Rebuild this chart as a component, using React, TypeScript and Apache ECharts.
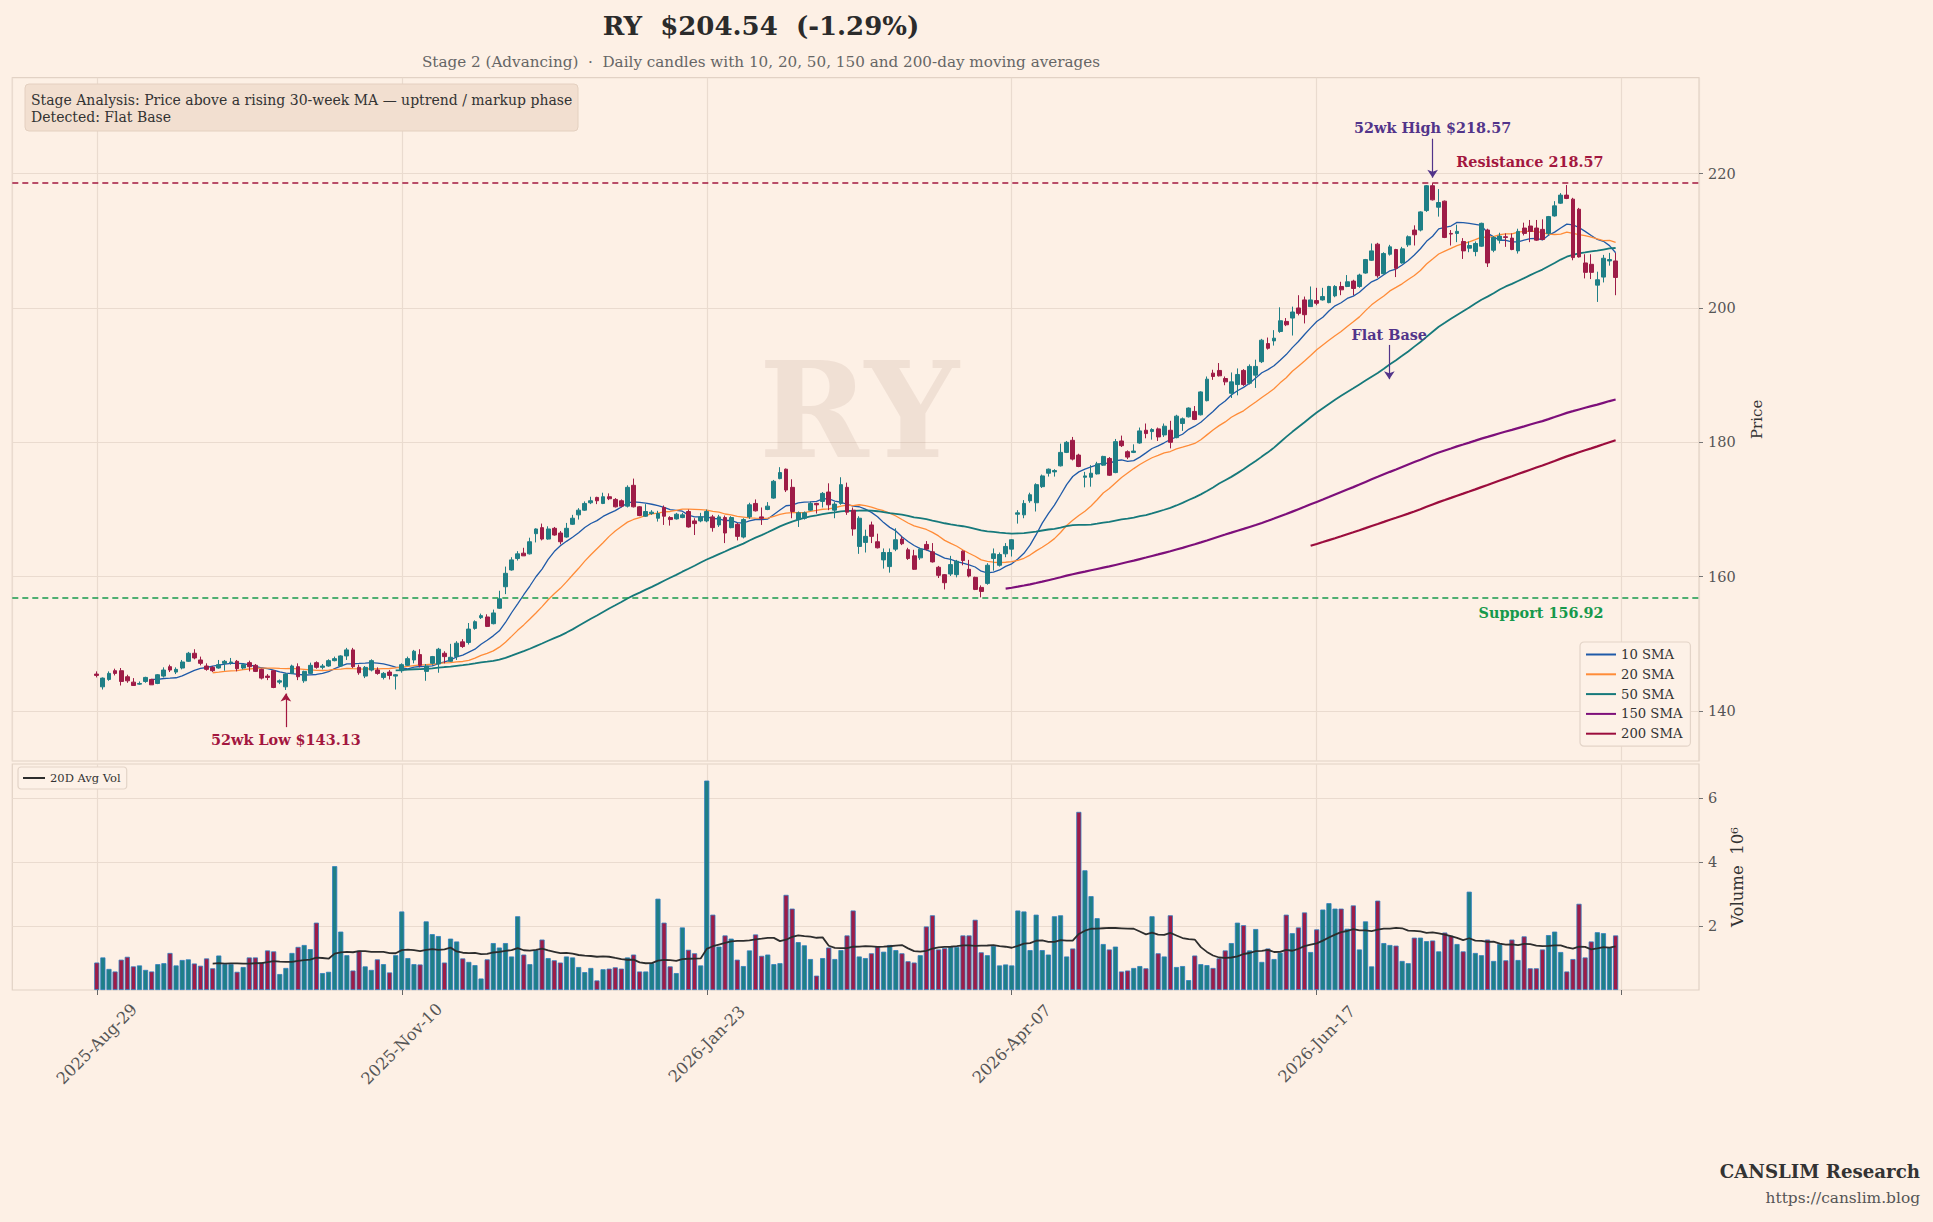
import React, { useEffect, useRef } from "react";
import * as echarts from "echarts";

// ---------- data ----------
const TICK_LABELS = ["2025-Aug-29", "2025-Nov-10", "2026-Jan-23", "2026-Apr-07", "2026-Jun-17"];
const TICK_STEP = 50;

const OPEN = [
  145.5,143.6,144.7,146.0,146.0,145.1,144.3,144.0,144.4,144.7,
  144.1,145.2,146.6,145.8,146.4,147.4,148.6,147.6,146.7,146.5,
  146.4,147.1,147.2,147.4,146.4,147.2,146.8,146.2,145.2,146.0,
  144.3,143.6,145.6,146.6,144.5,145.6,147.2,146.5,146.7,147.5,
  146.7,148.2,149.1,146.5,145.2,146.1,146.1,145.0,145.8,145.2,
  146.0,146.8,147.6,148.4,145.9,147.1,147.0,148.6,147.4,148.1,
  150.3,150.2,152.3,153.9,154.0,153.0,155.3,158.5,161.0,162.7,
  163.5,163.4,166.4,167.3,165.6,167.2,166.5,165.9,167.8,169.2,
  169.9,171.0,171.8,170.9,171.9,171.5,171.3,170.5,173.6,170.4,
  169.0,169.4,168.7,170.3,168.8,168.6,168.8,169.7,168.3,168.3,
  168.3,168.9,167.7,168.8,167.3,167.8,165.9,168.9,170.9,168.9,
  170.0,171.7,174.6,176.0,173.3,168.5,168.7,169.9,170.9,171.2,
  172.6,169.9,170.9,173.3,169.9,164.5,165.1,167.7,165.2,162.5,
  161.5,164.1,165.6,164.0,163.1,162.8,164.8,163.7,161.4,160.3,
  160.4,160.3,163.8,161.1,159.9,158.4,159.0,162.7,161.7,163.4,
  164.1,169.3,169.2,171.3,171.0,173.4,175.4,175.6,176.5,178.5,
  180.3,178.1,174.8,174.8,175.3,176.6,177.6,175.5,180.2,178.6,
  178.5,179.9,181.8,181.6,182.0,181.1,181.8,180.7,182.8,183.8,
  184.6,184.1,186.2,190.3,190.7,189.5,187.3,188.6,190.7,188.8,
  190.0,192.0,194.7,195.1,196.5,198.0,198.5,200.0,201.2,200.2,
  201.1,201.2,200.8,201.8,203.2,203.2,204.0,203.2,205.2,207.1,
  209.5,205.1,208.0,208.7,206.7,209.4,211.6,211.6,214.5,218.2,
  215.0,215.9,211.1,211.1,209.9,208.9,208.4,209.2,211.6,208.6,
  210.1,210.6,210.4,208.5,211.9,212.2,211.9,211.7,211.1,213.7,
  215.6,216.8,216.2,214.7,206.7,206.5,203.4,204.6,207.0,207.0,
];

const CLOSE = [
  145.3,144.9,145.6,145.6,144.4,144.5,143.8,144.1,145.0,143.9,
  145.4,146.1,146.1,146.2,147.3,148.6,147.9,147.1,146.2,146.0,
  146.9,147.4,147.3,146.3,146.9,146.6,145.9,144.9,145.0,143.5,
  144.5,145.5,146.7,145.1,145.9,146.8,146.5,146.7,147.5,147.8,
  148.2,149.1,146.6,145.7,146.5,147.5,145.6,145.6,145.3,145.4,
  146.9,147.8,148.9,146.8,146.7,148.1,149.2,148.1,148.0,150.1,
  149.6,152.2,153.3,154.2,152.6,154.6,156.7,160.5,162.5,163.4,
  163.1,165.2,167.1,165.6,167.1,166.2,165.2,167.2,168.7,169.9,
  170.9,171.3,171.3,171.9,171.6,170.4,170.5,173.3,170.4,169.1,
  169.7,169.6,169.4,169.0,168.5,169.3,169.2,167.4,167.9,168.9,
  169.7,167.3,168.9,166.5,168.8,166.0,168.5,170.7,169.8,168.7,
  170.5,174.2,175.5,172.9,169.7,169.5,169.5,170.9,170.7,172.4,
  170.7,170.8,173.7,169.6,167.1,168.7,166.0,166.0,164.3,163.6,
  163.6,165.5,164.9,162.7,161.1,164.1,164.1,162.2,160.2,159.1,
  161.8,162.3,162.4,160.1,158.1,157.8,161.7,163.4,163.3,164.5,
  165.5,169.5,170.9,172.2,173.7,175.0,176.0,175.8,178.5,180.0,
  177.5,176.4,175.0,175.4,176.8,177.9,175.1,180.1,179.5,177.8,
  178.7,181.7,181.3,181.9,180.8,182.4,180.0,183.9,183.5,185.1,
  183.4,187.5,189.4,189.8,189.9,189.0,189.0,190.1,188.6,191.3,
  191.3,195.2,194.0,195.5,198.1,197.5,199.4,199.2,199.0,201.2,
  200.7,201.7,203.2,203.2,202.7,203.9,202.9,204.9,207.2,208.5,
  204.8,208.1,209.1,205.9,208.8,210.6,210.9,214.3,218.2,216.1,
  215.7,210.5,211.0,211.4,208.5,209.3,209.6,212.6,206.7,210.5,
  210.7,210.5,208.7,211.4,211.1,211.4,210.1,210.2,213.6,215.2,
  216.8,216.3,207.5,207.6,205.3,205.3,204.2,207.4,207.21,204.54,
];

const LOW = [
  145.0,143.2,144.5,145.3,143.8,144.2,143.8,143.9,144.2,143.9,
  144.0,145.0,145.8,145.5,146.2,147.3,147.7,146.8,146.0,145.8,
  146.3,146.0,146.9,145.9,146.2,145.9,145.8,144.7,144.6,143.4,
  144.0,143.13,145.5,144.6,144.2,145.5,146.3,146.2,146.6,147.4,
  146.6,147.6,146.4,145.4,144.9,145.9,145.4,144.7,144.7,143.2,
  145.7,146.7,147.1,146.5,144.5,146.9,145.7,147.1,147.3,147.6,
  149.4,149.9,152.1,153.7,152.5,152.9,155.2,157.4,160.9,162.4,
  163.1,163.3,165.1,165.4,165.5,166.1,164.8,165.8,167.7,168.5,
  169.8,170.8,170.8,170.8,171.4,170.3,170.3,170.3,170.3,169.0,
  168.9,169.2,168.2,167.7,167.6,168.5,168.7,167.3,166.2,168.1,
  168.1,166.7,167.4,165.0,167.2,165.4,165.7,168.6,169.7,167.7,
  169.9,171.6,174.5,172.6,168.7,167.4,168.5,169.8,169.4,170.3,
  169.9,168.7,170.7,169.2,166.1,163.4,163.6,165.0,164.2,161.2,
  160.6,163.8,164.7,162.5,161.0,162.5,163.9,162.1,159.8,158.1,
  160.1,159.9,161.7,159.9,158.0,156.92,158.8,160.9,161.5,162.9,
  163.0,167.9,168.7,171.0,169.7,173.2,174.9,174.9,176.4,178.4,
  177.3,176.3,173.3,173.4,175.2,176.5,175.0,175.4,179.3,177.5,
  178.4,179.8,180.6,180.4,180.2,180.8,179.1,180.6,181.7,183.7,
  183.3,184.0,186.1,189.3,189.8,188.5,186.6,187.0,188.4,188.6,
  188.1,191.8,193.8,194.4,196.3,197.3,195.9,198.9,197.7,200.2,
  200.4,201.1,200.7,201.6,201.9,203.1,201.9,203.0,205.1,207.0,
  204.5,205.0,207.8,204.6,206.6,209.1,209.3,211.4,214.3,216.0,
  213.6,210.4,209.3,209.8,207.3,208.3,207.7,209.1,206.1,208.3,
  209.6,209.1,208.6,208.1,210.8,209.8,210.0,210.1,210.8,213.6,
  215.5,216.2,207.1,207.5,204.4,204.3,200.9,203.8,206.3,201.9,
];

const HIGH = [
  145.9,145.0,145.9,146.3,146.4,145.4,144.9,144.4,145.1,144.8,
  145.5,146.5,146.9,146.5,147.6,148.8,149.2,148.1,147.1,146.7,
  147.6,147.6,147.9,147.6,147.1,147.5,147.0,146.3,145.5,146.1,
  144.7,145.6,146.9,147.1,146.0,147.2,147.4,147.0,147.7,148.1,
  148.3,149.4,149.4,146.9,146.7,147.7,146.5,145.8,146.1,145.5,
  147.1,148.1,149.1,149.2,147.0,148.2,149.4,148.9,150.0,150.4,
  150.7,153.1,153.5,154.5,154.4,155.1,157.9,161.5,162.9,163.8,
  164.3,165.8,167.2,167.9,167.5,167.4,166.8,168.0,169.2,170.2,
  171.2,171.9,171.9,172.5,172.4,171.7,171.5,173.6,174.6,170.5,
  170.8,169.9,169.8,170.6,169.0,169.5,169.5,170.0,168.7,169.5,
  170.0,169.2,169.2,169.1,169.0,168.0,168.7,171.0,171.5,170.3,
  171.1,174.4,176.3,176.1,174.5,169.7,169.7,171.2,171.0,172.6,
  173.9,171.1,174.8,174.0,170.3,169.0,167.0,168.2,166.4,164.2,
  164.2,167.2,166.0,164.3,164.0,164.3,165.3,165.0,161.6,160.4,
  163.1,162.5,163.9,162.5,160.0,158.7,162.0,164.2,163.6,165.0,
  165.6,169.9,171.4,172.5,173.9,175.2,176.1,176.0,179.8,180.2,
  180.8,178.3,175.6,176.6,177.1,178.0,177.8,180.5,181.0,178.8,
  179.7,182.2,182.8,182.1,182.2,182.8,183.2,184.1,183.7,185.2,
  185.4,187.6,189.8,190.8,191.8,189.8,190.4,191.0,190.9,191.6,
  192.3,195.4,195.6,196.7,200.1,198.5,200.2,201.9,201.7,203.2,
  203.0,203.0,203.3,203.4,203.9,204.9,204.2,205.1,207.3,209.6,
  209.7,208.3,209.4,208.8,209.1,210.8,212.3,214.4,218.3,218.57,
  217.7,216.0,211.6,212.4,210.4,209.9,209.9,212.7,211.8,210.7,
  211.2,211.1,211.1,211.8,212.7,213.1,213.1,213.2,213.7,215.9,
  217.1,218.3,216.4,214.9,208.0,208.0,205.4,207.9,208.2,208.2,
];

// volume in millions
const VOLUME = [
  0.86,1.02,0.66,0.58,0.95,1.04,0.74,0.77,0.63,0.58,
  0.81,0.84,1.16,0.77,0.94,0.96,0.83,0.76,0.99,0.68,
  1.08,0.81,0.81,0.57,0.72,1.02,1.02,0.86,1.24,1.21,
  0.50,0.69,1.16,1.35,1.41,1.28,2.11,0.53,0.57,3.88,
  1.83,1.09,0.61,1.23,0.74,0.63,0.96,0.81,0.55,1.09,
  2.46,1.00,0.81,0.80,2.15,1.75,1.69,0.86,1.61,1.52,
  0.99,0.88,0.78,0.36,0.96,1.47,1.33,1.47,1.05,2.31,
  1.11,0.81,1.25,1.58,1.00,0.93,0.86,1.05,1.02,0.72,
  0.56,0.69,0.30,0.65,0.67,0.71,0.67,1.02,1.11,0.58,
  0.58,0.84,2.86,2.11,0.74,0.53,1.96,1.26,1.15,0.77,
  6.56,2.36,1.36,1.71,1.61,0.95,0.75,1.24,1.74,1.07,
  1.11,0.81,0.84,2.98,2.55,1.50,1.40,0.97,0.45,1.00,
  1.33,0.97,1.25,1.71,2.49,1.05,1.00,1.15,1.36,1.20,
  1.41,1.25,1.15,0.90,0.86,1.09,1.99,2.34,1.27,1.31,
  1.35,1.35,1.71,1.71,2.20,1.18,1.09,1.38,0.77,0.80,
  0.77,2.49,2.46,1.25,2.36,1.25,1.11,2.31,2.34,1.05,
  1.30,5.58,3.75,2.94,2.25,1.44,1.27,1.36,0.58,0.61,
  0.69,0.75,0.68,2.31,1.15,1.05,2.34,0.72,0.75,0.31,
  1.08,0.81,0.78,0.69,0.99,1.24,1.47,2.11,2.03,1.24,
  1.91,0.88,1.30,0.97,1.17,2.36,1.78,1.96,2.43,1.19,
  1.90,2.52,2.72,2.55,2.55,1.92,2.65,1.27,2.15,0.74,
  2.80,1.47,1.41,1.39,0.91,0.84,1.64,1.64,1.53,1.55,
  1.21,1.80,1.70,1.44,1.21,3.08,1.16,1.09,1.58,0.91,
  1.44,0.93,1.58,0.94,1.68,0.68,0.68,1.27,1.72,1.83,
  1.19,0.58,0.97,2.70,1.02,1.52,1.81,1.78,1.33,1.71,
];

const SMA_PERIODS = [10, 20, 50, 150, 200];
const SMA_COLORS = ["#1f5aa8", "#ff8c38", "#16797b", "#7d0f7a", "#9b0d3d"];
const SMA_WIDTHS = [1.3, 1.3, 1.8, 2.2, 2.2];
const VOL_AVG_PERIOD = 20;

const RESISTANCE = 218.57;
const SUPPORT = 156.92;
const HIGH_IDX = 219;
const LOW_IDX = 31;
const FLAT_BASE_IDX = 211.9;

// ---------- style ----------
const BG = "#fdf0e5";
const UP = "#1f7f86";
const DOWN = "#9e1c47";
const GRID_LINE = "#eadbcf";
const FRAME = "#e2d2c5";
const FONT = '"DejaVu Serif", "Liberation Serif", serif';
const PURPLE = "#52348a";
const CRIMSON = "#a3173f";
const GREEN = "#16994c";

function sma(values: number[], n: number): [number, number][] {
  const out: [number, number][] = [];
  for (let i = n - 1; i < values.length; i++) {
    let s = 0;
    for (let k = i - n + 1; k <= i; k++) s += values[k];
    out.push([i, s / n]);
  }
  return out;
}

const X_MIN = -13.85;
const X_MAX = 262.67;

function buildOption() {
  const candles = CLOSE.map((c, i) => [i, OPEN[i], c, LOW[i], HIGH[i]]);
  const vols = VOLUME.map((v, i) => ({
    value: [i, v],
    itemStyle: { color: CLOSE[i] >= OPEN[i] ? UP : DOWN },
  }));
  const tickVals = [0, 50, 100, 150, 200, 250];
  const xFormatter = (v: number) => {
    if (Math.abs(v % TICK_STEP) > 1e-6) return "";
    return TICK_LABELS[Math.round(v / TICK_STEP)] ?? "";
  };
  const smaSeries = SMA_PERIODS.map((p, k) => ({
    name: `${p} SMA`,
    type: "line",
    xAxisIndex: 0,
    yAxisIndex: 0,
    data: sma(CLOSE, p),
    symbol: "none",
    showSymbol: false,
    lineStyle: { color: SMA_COLORS[k], width: SMA_WIDTHS[k] },
    itemStyle: { color: SMA_COLORS[k] },
    z: 3,
    silent: true,
  }));
  const annotationLabel = (color: string) => ({
    show: true,
    color,
    fontFamily: FONT,
    fontWeight: "bold",
    fontSize: 14.4,
  });

  return {
    animation: false,
    backgroundColor: BG,
    textStyle: { fontFamily: FONT },
    grid: [
      { left: 12.3, top: 77.7, width: 1686.7, height: 683.3, show: true, borderColor: FRAME, borderWidth: 1.2, backgroundColor: "transparent" },
      { left: 12.3, top: 764, width: 1686.7, height: 226, show: true, borderColor: FRAME, borderWidth: 1.2, backgroundColor: "transparent" },
    ],
    legend: [
      {
        data: SMA_PERIODS.map((p) => `${p} SMA`),
        orient: "vertical",
        left: 1580,
        top: 642,
        icon: "rect",
        itemWidth: 30,
        itemHeight: 2,
        itemGap: 6.8,
        padding: [6, 8, 6, 6],
        backgroundColor: "#fdf1e7",
        borderColor: "#e3d4c8",
        borderWidth: 1.2,
        borderRadius: 4,
        textStyle: { fontFamily: FONT, fontSize: 13.2, color: "#333" },
        selectedMode: false,
      },
      {
        data: ["20D Avg Vol"],
        orient: "vertical",
        left: 18,
        top: 767,
        icon: "rect",
        itemWidth: 22,
        itemHeight: 2,
        padding: [5, 6, 5, 5],
        backgroundColor: "#fdf1e7",
        borderColor: "#e3d4c8",
        borderWidth: 1.2,
        borderRadius: 3,
        textStyle: { fontFamily: FONT, fontSize: 11.5, color: "#333" },
        selectedMode: false,
      },
    ],
    xAxis: [
      {
        type: "value",
        gridIndex: 0,
        min: X_MIN,
        max: X_MAX,
        minInterval: TICK_STEP,
        maxInterval: TICK_STEP,
        axisLine: { show: false, onZero: false },
        axisTick: { show: false },
        axisLabel: { show: false },
        splitLine: { show: true, lineStyle: { color: GRID_LINE, width: 1.2 } },
      },
      {
        type: "value",
        gridIndex: 1,
        min: X_MIN,
        max: X_MAX,
        minInterval: TICK_STEP,
        maxInterval: TICK_STEP,
        axisLine: { show: false, onZero: false },
        axisTick: { show: true, inside: false, length: 5, lineStyle: { color: "#666", width: 1 }, customValues: tickVals },
        axisLabel: {
          show: true,
          rotate: 45,
          fontSize: 16.3,
          color: "#555",
          fontFamily: FONT,
          align: "center",
          verticalAlign: "middle",
          margin: 54,
          formatter: xFormatter,
          customValues: [0, 50, 100, 150, 200],
        },
        splitLine: { show: true, lineStyle: { color: GRID_LINE, width: 1.2 } },
      },
    ],
    yAxis: [
      {
        type: "value",
        gridIndex: 0,
        position: "right",
        min: 132.56,
        max: 234.28,
        minInterval: 20,
        maxInterval: 20,
        axisLine: { show: false, onZero: false },
        axisTick: { show: true, length: 4, lineStyle: { color: "#777" }, customValues: [140, 160, 180, 200, 220] },
        axisLabel: {
          fontSize: 14.5,
          color: "#555",
          fontFamily: FONT,
          margin: 9,
          customValues: [140, 160, 180, 200, 220],
          formatter: (v: number) => (Math.abs(v % 20) < 1e-6 ? String(v) : ""),
        },
        splitLine: { show: true, lineStyle: { color: GRID_LINE, width: 1.2 } },
        name: "Price",
        nameLocation: "middle",
        nameRotate: 90,
        nameGap: 50,
        nameTextStyle: { fontFamily: FONT, fontSize: 15, color: "#333" },
      },
      {
        type: "value",
        gridIndex: 1,
        position: "right",
        min: 0,
        max: 7.08,
        minInterval: 2,
        maxInterval: 2,
        axisLine: { show: false, onZero: false },
        axisTick: { show: true, length: 4, lineStyle: { color: "#777" }, customValues: [2, 4, 6] },
        axisLabel: {
          fontSize: 14.5,
          color: "#555",
          fontFamily: FONT,
          margin: 9,
          customValues: [2, 4, 6],
          formatter: (v: number) => (v > 0 && Math.abs(v % 2) < 1e-6 ? String(v) : ""),
        },
        splitLine: { show: true, lineStyle: { color: GRID_LINE, width: 1.2 } },
        name: "Volume  10\u2076",
        nameLocation: "middle",
        nameRotate: 90,
        nameGap: 30,
        nameTextStyle: { fontFamily: FONT, fontSize: 16.5, color: "#333" },
      },
    ],
    series: [
      {
        name: "RY",
        type: "candlestick",
        xAxisIndex: 0,
        yAxisIndex: 0,
        data: candles,
        encode: { x: 0, y: [1, 2, 3, 4] },
        barWidth: 4.3,
        z: 4,
        itemStyle: { color: UP, color0: DOWN, borderColor: UP, borderColor0: DOWN, borderWidth: 1 },
        markLine: {
          silent: true,
          animation: false,
          symbol: ["none", "none"],
          label: { show: false },
          data: [
            { yAxis: RESISTANCE, lineStyle: { color: CRIMSON, type: [6, 4], width: 1.7 } },
            { yAxis: SUPPORT, lineStyle: { color: GREEN, type: [6, 4], width: 1.7 } },
            [
              { coord: [HIGH_IDX, 225.2], symbol: "none", lineStyle: { color: PURPLE, width: 1.2, type: "solid" } },
              { coord: [HIGH_IDX, 219.4], symbol: "arrow", symbolSize: 8 },
            ],
            [
              { coord: [FLAT_BASE_IDX, 194.5], symbol: "none", lineStyle: { color: PURPLE, width: 1.2, type: "solid" } },
              { coord: [FLAT_BASE_IDX, 189.4], symbol: "arrow", symbolSize: 8 },
            ],
            [
              { coord: [LOW_IDX, 137.6], symbol: "none", lineStyle: { color: CRIMSON, width: 1.2, type: "solid" } },
              { coord: [LOW_IDX, 142.6], symbol: "arrow", symbolSize: 8 },
            ],
          ],
        },
        markPoint: {
          silent: true,
          animation: false,
          symbol: "circle",
          symbolSize: 1,
          itemStyle: { color: "rgba(0,0,0,0)" },
          data: [
            { coord: [HIGH_IDX, 226.9], label: { ...annotationLabel(PURPLE), formatter: "52wk High $218.57", position: "inside" } },
            { coord: [FLAT_BASE_IDX, 196.1], label: { ...annotationLabel(PURPLE), formatter: "Flat Base", position: "inside" } },
            { coord: [LOW_IDX, 135.8], label: { ...annotationLabel(CRIMSON), formatter: "52wk Low $143.13", position: "inside" } },
            { coord: [247.1, 220.7], label: { ...annotationLabel(CRIMSON), formatter: "Resistance 218.57", position: [0, 0], align: "right", verticalAlign: "bottom" } },
            { coord: [247.1, 155.7], label: { ...annotationLabel(GREEN), formatter: "Support 156.92", position: [0, 0], align: "right", verticalAlign: "top" } },
          ],
        },
      },
      ...smaSeries,
      {
        name: "Volume",
        type: "bar",
        xAxisIndex: 1,
        yAxisIndex: 1,
        data: vols,
        barWidth: 5.1,
        itemStyle: { borderColor: "#2f7cc0", borderWidth: 0.8 },
        z: 2,
        silent: true,
      },
      {
        name: "20D Avg Vol",
        type: "line",
        xAxisIndex: 1,
        yAxisIndex: 1,
        data: sma(VOLUME, VOL_AVG_PERIOD),
        symbol: "none",
        showSymbol: false,
        lineStyle: { color: "#2d2d2d", width: 1.8 },
        itemStyle: { color: "#2d2d2d" },
        z: 3,
        silent: true,
      },
    ],
    graphic: [
      {
        type: "text",
        x: 859,
        y: 410,
        z: 1,
        silent: true,
        style: { text: "RY", font: `bold 132px ${FONT}`, fill: "rgba(160,130,110,0.14)", align: "center", verticalAlign: "middle" },
      },
      {
        type: "text",
        x: 761,
        y: 26,
        z: 100,
        style: { text: "RY  $204.54  (-1.29%)", font: `bold 26px ${FONT}`, fill: "#2b2b2b", align: "center", verticalAlign: "middle" },
      },
      {
        type: "text",
        x: 761,
        y: 62,
        z: 100,
        style: {
          text: "Stage 2 (Advancing)  \u00b7  Daily candles with 10, 20, 50, 150 and 200-day moving averages",
          font: `15.2px ${FONT}`,
          fill: "#666",
          align: "center",
          verticalAlign: "middle",
        },
      },
      {
        type: "rect",
        z: 100,
        shape: { x: 25, y: 84, width: 553, height: 47, r: 4 },
        style: { fill: "#f2dfd0", stroke: "#e4d0c0", lineWidth: 1 },
      },
      {
        type: "text",
        x: 31,
        y: 99.5,
        z: 101,
        style: { text: "Stage Analysis: Price above a rising 30-week MA \u2014 uptrend / markup phase", font: `14px ${FONT}`, fill: "#333", align: "left", verticalAlign: "middle" },
      },
      {
        type: "text",
        x: 31,
        y: 117,
        z: 101,
        style: { text: "Detected: Flat Base", font: `14px ${FONT}`, fill: "#333", align: "left", verticalAlign: "middle" },
      },
      {
        type: "text",
        x: 1920,
        y: 1171,
        z: 100,
        style: { text: "CANSLIM Research", font: `bold 18.2px ${FONT}`, fill: "#333", align: "right", verticalAlign: "middle" },
      },
      {
        type: "text",
        x: 1920,
        y: 1198,
        z: 100,
        style: { text: "https://canslim.blog", font: `15.4px ${FONT}`, fill: "#555", align: "right", verticalAlign: "middle" },
      },
    ],
  };
}

export default function App() {
  const ref = useRef<HTMLDivElement | null>(null);
  useEffect(() => {
    document.body.style.margin = "0";
    document.body.style.background = BG;
    document.body.style.overflow = "hidden";
    if (!ref.current) return;
    const chart = echarts.init(ref.current, undefined, { renderer: "svg" });
    chart.setOption(buildOption() as any);
    return () => chart.dispose();
  }, []);
  return (
    <div
      ref={ref}
      style={{ position: "absolute", left: 0, top: 0, width: 1933, height: 1222, background: BG }}
    />
  );
}
